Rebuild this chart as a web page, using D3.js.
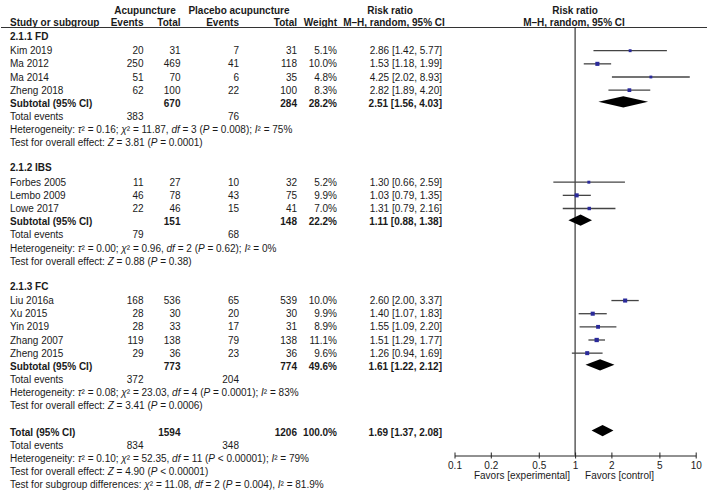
<!DOCTYPE html>
<html><head><meta charset="utf-8">
<script src="https://cdn.jsdelivr.net/npm/d3@7"></script>
<style>
html,body{margin:0;padding:0;background:#fff;}
svg text{font-family:"Liberation Sans",Arial,sans-serif;font-size:10px;fill:#1a1a1a;}
</style></head>
<body><svg id="c" width="709" height="490"></svg>
<script>
// ---------- data ----------
const groups = ["2.1.1 FD", "2.1.2 IBS", "2.1.3 FC"];
const studies = ["Kim 2019","Ma 2012","Ma 2014","Zheng 2018","Forbes 2005","Lembo 2009","Lowe 2017","Liu 2016a","Xu 2015","Yin 2019","Zhang 2007","Zheng 2015"];
const studyGroup = [0,0,0,0,1,1,1,2,2,2,2,2];
const expEvents = [20,250,51,62,11,46,22,168,28,28,119,29];
const expTotal = [31,469,70,100,27,78,46,536,30,33,138,36];
const ctrlEvents = [7,41,6,22,10,43,15,65,20,17,79,23];
const ctrlTotal = [31,118,35,100,32,75,41,539,30,31,138,36];
const weights = [5.1,10.0,4.8,8.3,5.2,9.9,7.0,10.0,9.9,8.9,11.1,9.6];
const rr = [2.86,1.53,4.25,2.82,1.30,1.03,1.31,2.60,1.40,1.55,1.51,1.26];
const ciLow = [1.42,1.18,2.02,1.89,0.66,0.79,0.79,2.00,1.07,1.09,1.29,0.94];
const ciHigh = [5.77,1.99,8.93,4.20,2.59,1.35,2.16,3.37,1.83,2.20,1.77,1.69];

const subExpTotal = [670,151,773];
const subCtrlTotal = [284,148,774];
const subWeight = [28.2,22.2,49.6];
const subRR = [2.51,1.11,1.61];
const subLow = [1.56,0.88,1.22];
const subHigh = [4.03,1.38,2.12];
const subExpEvents = [383,79,372];
const subCtrlEvents = [76,68,204];
const hetTau2 = ["0.16","0.00","0.08"];
const hetChi2 = ["11.87","0.96","23.03"];
const hetDf = [3,2,4];
const hetP = ["= 0.008","= 0.62","= 0.0001"];
const hetI2 = [75,0,83];
const effZ = ["3.81","0.88","3.41"];
const effP = ["= 0.0001","= 0.38","= 0.0006"];

const totExpTotal = 1594, totCtrlTotal = 1206, totWeight = "100.0%";
const totRR = 1.69, totLow = 1.37, totHigh = 2.08;
const totExpEvents = 834, totCtrlEvents = 348;
const totTau2 = "0.10", totChi2 = "52.35", totDf = 11, totP = "< 0.00001", totI2 = 79;
const totZ = "4.90", totZP = "< 0.00001";
const sgChi2 = "11.08", sgDf = 2, sgP = "= 0.004", sgI2 = "81.9%";

const axisTicks = [0.1,0.2,0.5,1,2,5,10];
const tickLabels = ["0.1","0.2","0.5","1","2","5","10"];

// ---------- layout ----------
const svg = d3.select("#c");
const fmt2 = d3.format(".2f");
const x = d3.scaleLog().domain([0.1,10]).range([454.5,695.7]);
const sq = d3.scaleSqrt().domain([0,11.1]).range([0,4.3]);
const rowY = i => 50.7 + i*13.15;
const BL = 3.6; // baseline offset
const col = {name:10, ee:143.5, et:180.5, ce:239, ct:297, w:337, rr:442};

function txt(xp, y, s, anchor, bold){
  return svg.append("text").attr("x",xp).attr("y",y).attr("text-anchor",anchor||"start")
    .style("font-weight",bold?"bold":"normal").text(s);
}
function rich(xp, y, parts){
  const t = svg.append("text").attr("x",xp).attr("y",y);
  parts.forEach(p=>{ t.append("tspan").style("font-style",p[1]?"italic":"normal").text(p[0]); });
  return t;
}
function hetParts(tau, chi, df, p, i2){
  return [["Heterogeneity: ",0],["τ",1],["² = "+tau+"; ",0],["χ",1],["² = "+chi+", ",0],["df",1],[" = "+df+" (",0],["P",1],[" "+p+"); ",0],["I",1],["² = "+i2+"%",0]];
}
function effParts(z,p){
  return [["Test for overall effect: ",0],["Z",1],[" = "+z+" (",0],["P",1],[" "+p+")",0]];
}
function diamond(r,lo,hi,y){
  const h=5.6;
  svg.append("path").attr("d",`M${x(lo)},${y} L${x(r)},${y-h} L${x(hi)},${y} L${x(r)},${y+h} Z`).attr("fill","#000");
}
function ciText(r,lo,hi){ return fmt2(r)+" ["+fmt2(lo)+", "+fmt2(hi)+"]"; }

// header
txt(145,13.5,"Acupuncture","middle",true);
txt(239,13.5,"Placebo acupuncture","middle",true);
txt(390,13.5,"Risk ratio","middle",true);
txt(575,13.5,"Risk ratio","middle",true);
txt(col.name,26,"Study or subgroup","start",true);
txt(col.ee,26,"Events","end",true);
txt(col.et,26,"Total","end",true);
txt(col.ce,26,"Events","end",true);
txt(col.ct,26,"Total","end",true);
txt(col.w,26,"Weight","end",true);
txt(394,26,"M–H, random, 95% CI","middle",true);
txt(574,26,"M–H, random, 95% CI","middle",true);
svg.append("line").attr("x1",1).attr("x2",707).attr("y1",27.5).attr("y2",27.5).attr("stroke","#333").attr("stroke-width",1.2);

// null line
svg.append("line").attr("x1",x(1)).attr("x2",x(1)).attr("y1",27.5).attr("y2",455.5).attr("stroke","#222").attr("stroke-width",1.1);

// groups
let idx = 0;
groups.forEach((g,gi)=>{
  const headerY = rowY(idx-1) - 1.5;
  txt(col.name, headerY+BL, g, "start", true);
  const members = d3.range(studies.length).filter(i=>studyGroup[i]===gi);
  members.forEach(i=>{
    const y = rowY(idx);
    txt(col.name,y+BL,studies[i]);
    txt(col.ee,y+BL,expEvents[i],"end");
    txt(col.et,y+BL,expTotal[i],"end");
    txt(col.ce,y+BL,ctrlEvents[i],"end");
    txt(col.ct,y+BL,ctrlTotal[i],"end");
    txt(col.w,y+BL,weights[i].toFixed(1)+"%","end");
    txt(col.rr,y+BL,ciText(rr[i],ciLow[i],ciHigh[i]),"end");
    svg.append("line").attr("x1",x(ciLow[i])).attr("x2",x(ciHigh[i])).attr("y1",y).attr("y2",y)
      .attr("stroke","#444").attr("stroke-width",1.3);
    const s = sq(weights[i]);
    svg.append("rect").attr("x",x(rr[i])-s/2).attr("y",y-s/2).attr("width",s).attr("height",s).attr("fill","#2a2a9a");
    idx++;
  });
  let y = rowY(idx);
  txt(col.name,y+BL,"Subtotal (95% CI)","start",true);
  txt(col.et,y+BL,subExpTotal[gi],"end",true);
  txt(col.ct,y+BL,subCtrlTotal[gi],"end",true);
  txt(col.w,y+BL,subWeight[gi].toFixed(1)+"%","end",true);
  txt(col.rr,y+BL,ciText(subRR[gi],subLow[gi],subHigh[gi]),"end",true);
  diamond(subRR[gi],subLow[gi],subHigh[gi],y-1.5);
  idx++;
  y = rowY(idx);
  txt(col.name,y+BL,"Total events");
  txt(col.ee,y+BL,subExpEvents[gi],"end");
  txt(col.ce,y+BL,subCtrlEvents[gi],"end");
  idx++;
  rich(col.name,rowY(idx)+BL,hetParts(hetTau2[gi],hetChi2[gi],hetDf[gi],hetP[gi],hetI2[gi]));
  idx++;
  rich(col.name,rowY(idx)+BL,effParts(effZ[gi],effP[gi]));
  idx++;
  idx++; // blank
  idx++; // next header
});
idx--; // overall total sits one row after blank
let y = rowY(idx);
txt(col.name,y+BL,"Total (95% CI)","start",true);
txt(col.et,y+BL,totExpTotal,"end",true);
txt(col.ct,y+BL,totCtrlTotal,"end",true);
txt(col.w,y+BL,totWeight,"end",true);
txt(col.rr,y+BL,ciText(totRR,totLow,totHigh),"end",true);
diamond(totRR,totLow,totHigh,y-1.5);
idx++; y=rowY(idx);
txt(col.name,y+BL,"Total events");
txt(col.ee,y+BL,totExpEvents,"end");
txt(col.ce,y+BL,totCtrlEvents,"end");
idx++;
rich(col.name,rowY(idx)+BL,hetParts(totTau2,totChi2,totDf,totP,totI2));
idx++;
rich(col.name,rowY(idx)+BL,effParts(totZ,totZP));
idx++;
rich(col.name,rowY(idx)+BL,[["Test for subgroup differences: ",0],["χ",1],["² = "+sgChi2+", ",0],["df",1],[" = "+sgDf+" (",0],["P",1],[" "+sgP+"), ",0],["I",1],["² = "+sgI2,0]]);

// axis
const axY = 455.5;
const ax = svg.append("g").attr("transform",`translate(0,${axY})`)
  .call(d3.axisBottom(x).tickValues(axisTicks).tickFormat((d,i)=>tickLabels[i]).tickSize(3).tickPadding(3).tickSizeOuter(0));
ax.select(".domain").attr("stroke","#222");
ax.selectAll(".tick line").attr("y1",-3).attr("stroke","#222");
ax.selectAll(".tick text").style("font-family","Liberation Sans, Arial, sans-serif").style("font-size","10px").attr("fill","#1a1a1a");
txt(x(1)-5,479,"Favors [experimental]","end");
txt(x(1)+10,479,"Favors [control]","start");
</script></body></html>
